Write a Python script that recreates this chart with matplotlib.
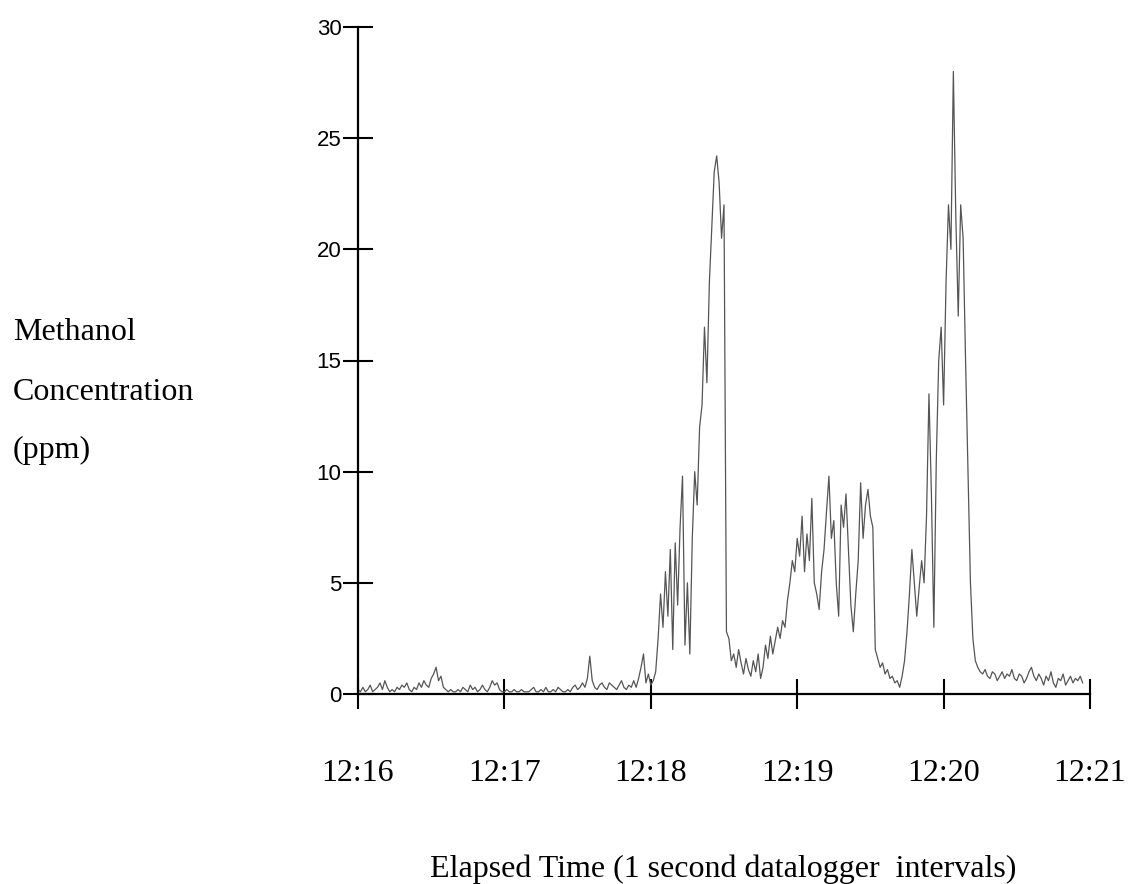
import numpy as np
import matplotlib
matplotlib.use("Agg")
import matplotlib.pyplot as plt

# ---- data (ppm, one value per second starting 12:16:00) ----
seg_1216 = [0.2,0.1,0.3,0.1,0.2,0.4,0.1,0.2,0.3,0.5,
            0.2,0.6,0.3,0.1,0.2,0.1,0.3,0.2,0.4,0.3,
            0.5,0.2,0.1,0.3,0.2,0.5,0.3,0.6,0.4,0.3,
            0.7,0.9,1.2,0.6,0.8,0.3,0.2,0.1,0.2,0.1,
            0.1,0.2,0.1,0.3,0.2,0.1,0.4,0.2,0.3,0.1,
            0.2,0.4,0.2,0.1,0.3,0.6,0.4,0.5,0.2,0.1]
seg_1217 = [0.1,0.2,0.1,0.1,0.2,0.1,0.1,0.2,0.1,0.1,
            0.1,0.2,0.3,0.1,0.1,0.2,0.1,0.3,0.1,0.1,
            0.2,0.1,0.3,0.2,0.1,0.1,0.2,0.1,0.3,0.4,
            0.2,0.3,0.5,0.3,0.7,1.7,0.6,0.3,0.2,0.4,
            0.5,0.3,0.2,0.5,0.4,0.3,0.2,0.4,0.6,0.3,
            0.2,0.4,0.3,0.6,0.3,0.7,1.2,1.8,0.5,0.9]
seg_1218 = [0.4,0.6,1.0,2.5,4.5,3.0,5.5,3.5,6.5,2.0,
            6.8,4.0,7.5,9.8,2.2,5.0,1.8,7.0,10.0,8.5,
            12.0,13.0,16.5,14.0,18.5,21.0,23.5,24.2,23.0,20.5,
            22.0,2.8,2.5,1.5,1.8,1.2,2.0,1.4,0.9,1.6,
            1.1,0.8,1.5,1.0,1.8,0.7,1.2,2.2,1.6,2.6,
            1.8,2.4,3.0,2.5,3.3,3.0,4.2,5.0,6.0,5.5]
seg_1219 = [7.0,6.2,8.0,5.5,7.2,6.0,8.8,5.0,4.5,3.8,
            5.5,6.5,8.2,9.8,7.0,7.8,5.0,3.5,8.5,7.5,
            9.0,6.5,4.0,2.8,4.5,6.0,9.5,7.0,8.5,9.2,
            8.0,7.5,2.0,1.6,1.2,1.4,0.9,1.1,0.7,0.8,
            0.5,0.6,0.3,0.8,1.5,2.8,4.5,6.5,5.0,3.5,
            4.8,6.0,5.0,8.0,13.5,9.0,3.0,10.5,15.0,16.5]
seg_1220 = [13.0,18.5,22.0,20.0,28.0,21.5,17.0,22.0,20.5,15.0,
            10.0,5.0,2.5,1.5,1.2,1.0,0.9,1.1,0.8,0.7,
            1.0,0.9,0.6,0.8,1.0,0.7,0.9,0.8,1.1,0.7,
            0.6,0.9,0.8,0.5,0.7,1.0,1.2,0.8,0.6,0.9,
            0.7,0.4,0.8,0.6,1.0,0.5,0.3,0.7,0.6,0.9,
            0.4,0.6,0.8,0.5,0.7,0.6,0.8,0.5]

y_ticks = [0, 5, 10, 15, 20, 25, 30]
x_tick_labels = ["12:16", "12:17", "12:18", "12:19", "12:20", "12:21"]

values = np.array(seg_1216 + seg_1217 + seg_1218 + seg_1219 + seg_1220)
seconds = np.arange(len(values))

# ---- figure ----
W, H = 1132, 884
fig = plt.figure(figsize=(W / 100, H / 100), dpi=100)
ax_left, ax_right, ax_top, ax_bottom = 358, 1090, 27, 694
ax = fig.add_axes([ax_left / W, 1 - ax_bottom / H,
                   (ax_right - ax_left) / W, (ax_bottom - ax_top) / H])

ax.plot(seconds, values, color="#555555", lw=0.9)

ax.set_xlim(0, 300)
ax.set_ylim(0, 30)
ax.set_yticks(y_ticks)
ax.set_yticklabels([str(v) for v in y_ticks], fontfamily="Liberation Sans", fontsize=16)
ax.set_xticks(np.arange(0, 301, 60))
ax.set_xticklabels(x_tick_labels, fontfamily="Liberation Serif", fontsize=23)

for s in ["top", "right"]:
    ax.spines[s].set_visible(False)
for s in ["left", "bottom"]:
    ax.spines[s].set_linewidth(1.6)
    ax.spines[s].set_color("black")

ax.tick_params(axis="y", direction="inout", length=21.6, width=1.5, pad=1)
ax.tick_params(axis="x", direction="inout", length=21.6, width=1.5, pad=36)

serif = "Liberation Serif"
fig.text(13 / W, 1 - 333 / H, "Methanol", ha="left", va="center", fontfamily=serif, fontsize=23)
fig.text(13 / W, 1 - 392 / H, "Concentration", ha="left", va="center", fontfamily=serif, fontsize=23)
fig.text(13 / W, 1 - 450 / H, "(ppm)", ha="left", va="center", fontfamily=serif, fontsize=23)
fig.text(723 / W, 1 - 869 / H, "Elapsed Time (1 second datalogger  intervals)",
         ha="center", va="center", fontfamily=serif, fontsize=23)

fig.savefig("out.png", dpi=100)
